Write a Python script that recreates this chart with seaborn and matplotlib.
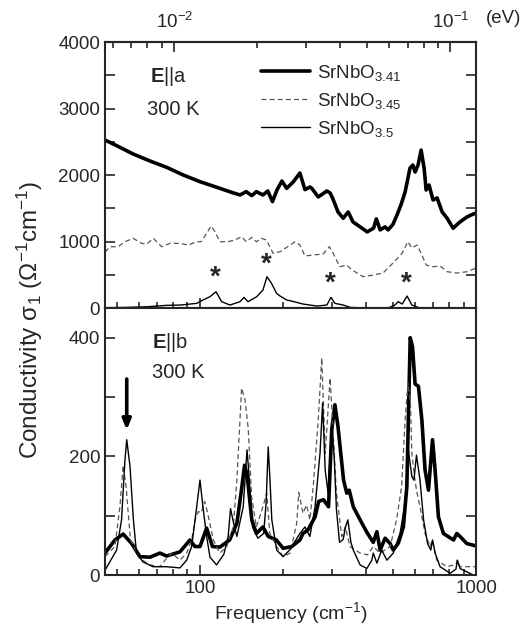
import numpy as np
import matplotlib
matplotlib.use("Agg")
import matplotlib.pyplot as plt
import seaborn as sns
from matplotlib.ticker import FuncFormatter, NullFormatter, FixedLocator

# E||a panel, sigma_1 (1/Ohm cm) vs frequency (cm-1)
freq_a41 = [45.3, 50, 57.3, 66, 75.7, 87, 100, 118, 130, 139.6, 147, 154, 160, 169, 176, 183, 190, 198,
            206, 218, 230, 240, 250, 254, 268, 288, 296, 303, 316, 330, 344, 358, 380, 403, 425, 435, 449,
            468, 480, 500, 517, 535, 553, 576, 590, 601, 616, 632, 648, 659, 675, 698, 722, 753, 785, 825,
            850, 874, 905, 927, 960, 1000]
sig_a41 = [2527, 2440, 2316, 2210, 2116, 2000, 1900, 1800, 1740, 1700, 1750, 1690, 1750, 1700, 1760, 1600, 1775, 1910,
           1800, 1900, 2030, 1780, 1820, 1800, 1670, 1760, 1730, 1640, 1445, 1350, 1445, 1295, 1220, 1145, 1200, 1340, 1175,
           1220, 1175, 1260, 1400, 1560, 1745, 2105, 2150, 2045, 2150, 2375, 2100, 1775, 1850, 1625, 1655, 1445, 1350, 1200,
           1250, 1295, 1340, 1370, 1400, 1430]

freq_a45 = [45.3, 47.2, 50.5, 53.5, 57.3, 61.5, 64.1, 67.8, 72.6, 77.9, 84.6, 90.7, 97.3, 101, 105.7, 109.6, 113.3,
            118, 126, 133.8, 141.6, 147, 154, 160, 167, 174, 184, 195, 206, 221, 230, 240, 256, 279, 294, 303,
            321, 340, 355, 390, 424, 460, 500, 540, 566, 585, 611, 636, 659, 698, 740, 785, 851, 927, 1000]
sig_a45 = [840, 922, 922, 997, 1048, 973, 960, 1048, 922, 973, 973, 948, 997, 997, 1123, 1233, 1148,
           997, 997, 1023, 1073, 997, 1063, 997, 1048, 1023, 822, 847, 913, 997, 948, 782, 797, 812, 922, 827,
           621, 647, 572, 471, 496, 526, 677, 827, 997, 902, 948, 797, 647, 621, 632, 546, 526, 546, 601]

freq_a50 = [45.3, 55, 65, 75.7, 85, 97.3, 102.5, 108.7, 114.3, 119.8, 128.4, 139.6, 144.3, 149.2, 160.5, 169,
            174.8, 181.6, 189.4, 195, 206, 212, 236, 265, 288, 298, 308, 330, 350, 390, 480, 508, 522, 540,
            562, 585, 620, 700, 1000]
sig_a50 = [5, 10, 20, 40, 45, 70, 120, 170, 245, 95, 45, 95, 160, 95, 170, 270,
           470, 370, 220, 180, 120, 110, 60, 30, 45, 160, 70, 45, 10, 0, 0, 45, 95, 60,
           180, 45, 5, 0, 0]

# E||b panel
freq_b41 = [45.3, 49.2, 52.7, 56.6, 60.6, 65.9, 71.6, 75.7, 84.6, 92, 95.9, 100, 105.7, 111, 118, 128, 136,
            141, 145, 148, 154, 160, 169, 176.6, 189, 200, 215, 230, 236, 246, 261, 269, 280, 292, 300, 308,
            316, 331, 340, 347, 359, 380, 402, 424, 437, 449, 468, 488, 501, 523, 545, 561, 568, 577, 588,
            601, 618, 636, 653, 672, 681, 695, 710, 730, 761, 828, 851, 874, 925, 1000]
sig_b41 = [37, 59, 69, 53, 31, 30, 37, 32, 39, 59, 48, 48, 79, 48, 47, 59, 87,
           140, 185, 170, 93, 70, 81, 65, 59, 45, 48, 59, 70, 76, 98, 124, 127, 115, 245, 287,
           250, 160, 138, 143, 115, 93, 72, 55, 73, 42, 62, 53, 42, 54, 81, 149, 261, 400, 385,
           322, 318, 261, 177, 143, 177, 228, 177, 98, 70, 59, 70, 65, 53, 49]

freq_b45 = [45.3, 49.2, 51.3, 52.7, 54, 56, 60.6, 65.9, 71.6, 75.7, 79, 84.6, 89.5, 93.3, 96, 98.6, 101, 104,
            106.5, 111.8, 118, 125, 132, 136, 141.5, 145.6, 149.5, 153.8, 160, 169, 174.4, 179, 189.5, 200,
            212, 224, 228, 236, 243, 250, 257, 268, 276, 284, 296, 304, 312, 326, 336, 349, 380, 404, 424,
            449, 488, 515, 537, 553, 566, 578, 585, 598, 608, 626, 653, 681, 695, 720, 783, 845, 855, 874, 1000]
sig_b45 = [31, 48, 115, 185, 149, 59, 28, 17, 14, 28, 37, 25, 37, 59, 93, 107, 105, 124,
           105, 59, 37, 48, 81, 160, 315, 295, 247, 132, 81, 115, 138, 70, 48, 31,
           37, 87, 139, 104, 118, 93, 149, 261, 366, 205, 332, 233, 138, 65, 81, 48, 37, 34, 48,
           37, 48, 93, 149, 261, 323, 290, 205, 166, 143, 115, 70, 48, 59, 25, 14, 18, 25, 14, 14]

freq_b50 = [45.3, 49.9, 52, 53.5, 54.3, 55.8, 57.4, 58.9, 62.2, 67.6, 75.7, 84.6, 89.5, 93.3, 97.3, 100, 102.5,
            105.7, 108.7, 114.8, 122, 126.5, 129, 132, 136, 143.4, 148, 150, 155, 162, 170, 173.5, 176.6, 179,
            182, 189.5, 200, 211, 230, 240, 250, 261, 272, 278, 284, 291, 300, 306, 312, 320, 330, 336, 343,
            352, 359, 380, 402, 419, 424, 437, 455, 475, 501, 530, 553, 568, 585, 595, 608, 626, 645, 667,
            685, 695, 710, 740, 805, 845, 855, 874, 977, 1000]
sig_b50 = [8, 42, 93, 194, 228, 183, 93, 37, 22, 14, 14, 12, 25, 48, 115, 160, 115,
           65, 30, 17, 35, 65, 112, 90, 65, 115, 211, 177, 81, 62, 70, 120, 216, 166,
           93, 42, 31, 42, 70, 81, 65, 115, 205, 290, 177, 138, 255, 200, 110, 55, 60, 80, 93,
           55, 42, 17, 11, 25, 37, 20, 42, 25, 37, 70, 121, 211, 166, 160, 202, 160, 93, 53,
           42, 59, 37, 14, 3, 10, 25, 11, 0, 0]

star_freq = [114, 174, 296, 558]
star_sig = [460, 650, 370, 370]

ev_major = [0.01, 0.1]
ev_minor = [0.006, 0.007, 0.008, 0.009, 0.02, 0.03, 0.04, 0.05, 0.06, 0.07, 0.08, 0.09, 0.2]

sns.set_style("ticks")
plt.rcParams['font.family'] = ['Liberation Sans', 'DejaVu Sans']
plt.rcParams['mathtext.fontset'] = 'custom'
plt.rcParams['mathtext.rm'] = 'Liberation Sans'
plt.rcParams['mathtext.it'] = 'Liberation Sans:italic'
plt.rcParams['mathtext.bf'] = 'Liberation Sans:bold'

fig = plt.figure(figsize=(5.25, 6.33), dpi=100)
ax1 = fig.add_axes([0.2, 0.5134, 0.707, 0.4202])
ax2 = fig.add_axes([0.2, 0.0916, 0.707, 0.4218])

thick = dict(color='black', lw=2.6)
dash = dict(color='#555555', lw=0.9, linestyle=(0, (4, 2.5)))
thin = dict(color='black', lw=1.0)

sns.lineplot(x=freq_a41, y=sig_a41, ax=ax1, estimator=None, sort=False, label='SrNbO$_{3.41}$', **thick)
sns.lineplot(x=freq_a45, y=sig_a45, ax=ax1, estimator=None, sort=False, label='SrNbO$_{3.45}$', **dash)
sns.lineplot(x=freq_a50, y=sig_a50, ax=ax1, estimator=None, sort=False, label='SrNbO$_{3.5}$', **thin)

sns.lineplot(x=freq_b41, y=sig_b41, ax=ax2, estimator=None, sort=False, **thick)
sns.lineplot(x=freq_b45, y=sig_b45, ax=ax2, estimator=None, sort=False, **dash)
sns.lineplot(x=freq_b50, y=sig_b50, ax=ax2, estimator=None, sort=False, **thin)

for f, s in zip(star_freq, star_sig):
    ax1.text(f, s, '*', ha='center', va='center', fontsize=20, fontweight='bold')

ax2.annotate('', xy=(54.3, 240), xytext=(54.3, 335),
             arrowprops=dict(arrowstyle='-|>,head_width=0.25,head_length=0.6', lw=2.6, color='black'))

for ax in (ax1, ax2):
    ax.set_xscale('log')
    ax.set_xlim(45.3, 1000)
    ax.xaxis.set_major_formatter(FuncFormatter(lambda v, p: f'{v:g}'))
    ax.xaxis.set_minor_formatter(NullFormatter())
    ax.tick_params(which='both', direction='in', labelsize=13.5, width=1.2)
    ax.tick_params(which='major', length=7)
    ax.tick_params(which='minor', length=4)
    for sp in ax.spines.values():
        sp.set_linewidth(1.5)
        sp.set_visible(True)
    ax.set_xlabel('')
    ax.set_ylabel('')

ax1.set_ylim(0, 4000)
ax1.set_yticks([0, 500, 1000, 1500, 2000, 2500, 3000, 3500, 4000])
ax1.set_yticklabels(['0', '', '1000', '', '2000', '', '3000', '', '4000'])
ax1.tick_params(axis='x', labelbottom=False)
ax1.tick_params(axis='y', right=True)

ax2.set_ylim(0, 450)
ax2.set_yticks([0, 100, 200, 300, 400])
ax2.set_yticklabels(['0', '', '200', '', '400'])
ax2.tick_params(axis='y', right=True)
ax2.tick_params(axis='x', top=False)
ax2.set_xlabel('Frequency (cm$^{-1}$)', fontsize=14, labelpad=2)

sec = ax1.secondary_xaxis('top', functions=(lambda f: f / 8065.54, lambda e: e * 8065.54))
sec.xaxis.set_major_locator(FixedLocator(ev_major))
sec.xaxis.set_minor_locator(FixedLocator(ev_minor))
sec.xaxis.set_major_formatter(FuncFormatter(lambda v, p: f'$10^{{{int(round(np.log10(v)))}}}$'))
sec.xaxis.set_minor_formatter(NullFormatter())
sec.tick_params(which='both', direction='in', labelsize=13.5, width=1.2, pad=7)
sec.tick_params(which='major', length=7)
sec.tick_params(which='minor', length=4)
sec.spines['top'].set_linewidth(1.5)
fig.text(0.926, 0.97, '(eV)', fontsize=13.5, va='center', ha='left')

ax1.text(0.12, 0.87, r'$\mathbf{E}$||a', transform=ax1.transAxes, fontsize=14.5, va='center')
ax1.text(0.113, 0.745, '300 K', transform=ax1.transAxes, fontsize=14.5, va='center')
ax2.text(0.127, 0.87, r'$\mathbf{E}$||b', transform=ax2.transAxes, fontsize=14.5, va='center')
ax2.text(0.127, 0.757, '300 K', transform=ax2.transAxes, fontsize=14.5, va='center')

ax1.legend(loc='upper left', bbox_to_anchor=(0.40, 0.95), frameon=False, fontsize=13.5,
           handlelength=2.6, handletextpad=0.4, labelspacing=0.42, borderaxespad=0)

fig.text(0.057, 0.494, 'Conductivity σ$_1$ (Ω$^{-1}$cm$^{-1}$)', rotation=90, fontsize=17.5,
         va='center', ha='center')

plt.savefig('out.png', dpi=100)
